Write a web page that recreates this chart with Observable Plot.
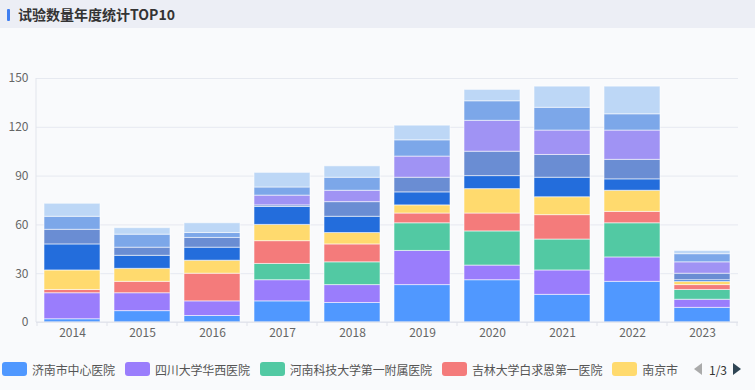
<!DOCTYPE html>
<html>
<head>
<meta charset="utf-8">
<script src="https://cdn.jsdelivr.net/npm/d3@7"></script>
<script src="https://cdn.jsdelivr.net/npm/@observablehq/plot@0.6"></script>
<style>
  html, body { margin: 0; padding: 0; }
  body { width: 755px; height: 390px; background: #f9fafc; font-family: "Noto Sans CJK SC", "Noto Sans", sans-serif; overflow: hidden; position: relative; }
  #title { height: 28px; background: #eceef5; position: relative; }
  #title .accent { position: absolute; left: 7px; top: 9px; width: 3px; height: 12px; background: #3f7ef0; border-radius: 1px; }
  #title .text { position: absolute; left: 18px; top: 0; line-height: 28px; font-size: 14px; font-weight: bold; color: #333; }
  #chart { position: absolute; left: 0; top: 30px; }
  #legend { position: absolute; left: 2px; top: 361px; height: 16px; display: flex; align-items: center; font-size: 12px; color: #555; white-space: nowrap; }
  #legend .item { display: flex; align-items: center; margin-right: 10px; }
  #legend .item span { letter-spacing: -0.15px; }
  #legend .sw { width: 25px; height: 14px; border-radius: 3px; margin-right: 5px; }
  #pager { position: absolute; left: 693px; top: 361px; height: 16px; display: flex; align-items: center; font-size: 12px; color: #333; }
</style>
</head>
<body>
<div id="title"><div class="accent"></div><div class="text">试验数量年度统计TOP10</div></div>
<div id="chart"></div>
<div id="legend"></div>
<div id="pager">
  <svg width="10" height="14"><path d="M9,1 L1,7 L9,13 Z" fill="#aaa"/></svg>
  <span style="margin:0 5px 0 6px">1/3</span>
  <svg width="10" height="14"><path d="M1,1 L9,7 L1,13 Z" fill="#2f4554"/></svg>
</div>
<script>
const years = ["2014","2015","2016","2017","2018","2019","2020","2021","2022","2023"];
const seriesNames = ["济南市中心医院","四川大学华西医院","河南科技大学第一附属医院","吉林大学白求恩第一医院","南京市","医院6","医院7","医院8","医院9","医院10"];
const legendShown = ["济南市中心医院","四川大学华西医院","河南科技大学第一附属医院","吉林大学白求恩第一医院","南京市"];
const colors = ["#5098ff","#9a7dfc","#52c9a3","#f47b7b","#ffda6e","#236ddc","#6a8dd3","#a093f4","#7ca7e9","#bdd7f6"];
const yTicks = [0,30,60,90,120,150];

// values per series, in year order
const s1  = [2, 7, 4, 13, 12, 23, 26, 17, 25, 9];
const s2  = [16, 11, 9, 13, 11, 21, 9, 15, 15, 5];
const s3  = [0, 0, 0, 10, 14, 17, 21, 19, 21, 6];
const s4  = [2, 7, 17, 14, 11, 6, 11, 15, 7, 3];
const s5  = [12, 8, 8, 10, 7, 5, 15, 11, 13, 2];
const s6  = [16, 8, 8, 11, 10, 8, 8, 12, 7, 1];
const s7  = [9, 5, 6, 1, 9, 9, 15, 14, 12, 4];
const s8  = [0, 0, 0, 6, 7, 13, 19, 15, 18, 7];
const s9  = [8, 8, 3, 5, 8, 10, 12, 14, 10, 5];
const s10 = [8, 4, 6, 9, 7, 9, 7, 13, 17, 2];
const seriesValues = [s1, s2, s3, s4, s5, s6, s7, s8, s9, s10];

const table = [];
seriesNames.forEach((name, si) => {
  years.forEach((yr, yi) => {
    table.push({series: name, year: yr, value: seriesValues[si][yi]});
  });
});

const chart = Plot.plot({
  width: 755,
  height: 320,
  marginTop: 48,
  marginBottom: 28,
  marginLeft: 36,
  marginRight: 17,
  style: {background: "transparent", fontSize: "12px", fontFamily: "'Noto Sans CJK SC', 'Noto Sans', sans-serif", color: "#666", overflow: "visible"},
  x: {domain: years, paddingInner: 0.2, paddingOuter: 0.1, label: null, tickSize: 0, tickPadding: 6},
  y: {domain: [0, 150], ticks: yTicks, label: null, tickSize: 0, tickPadding: 8},
  color: {domain: seriesNames, range: colors},
  marks: [
    Plot.ruleY(yTicks, {stroke: "#e6e9f0", strokeWidth: 1}),
    Plot.barY(table, {x: "year", y: "value", fill: "series", stroke: "#ffffff", strokeOpacity: 0.55, strokeWidth: 1})
  ]
});
document.getElementById("chart").appendChild(chart);

// axis lines and category boundary ticks from the library's scales
const xs = chart.scale("x");
const ys = chart.scale("y");
const svg = d3.select(chart);
const y0 = ys.apply(0), yTop = ys.apply(150);
const xr = xs.range;
const g = svg.append("g");
g.append("line").attr("x1", xr[0]).attr("x2", xr[0]).attr("y1", yTop).attr("y2", y0).attr("stroke", "#e2e5ec");
g.append("line").attr("x1", xr[0]).attr("x2", xr[1]).attr("y1", y0).attr("y2", y0).attr("stroke", "#dfe2ea");
const step = xs.step != null ? xs.step : (xr[1] - xr[0]) / years.length;
const bw = xs.bandwidth != null ? xs.bandwidth : step * 0.8;
const bounds = years.map(yr => xs.apply(yr) - (step - bw) / 2);
bounds.push(bounds[bounds.length - 1] + step);
bounds.forEach(bx => {
  g.append("line").attr("x1", bx).attr("x2", bx).attr("y1", y0).attr("y2", y0 + 4).attr("stroke", "#dfe2ea");
});

// legend
const leg = d3.select("#legend");
legendShown.forEach(name => {
  const it = leg.append("div").attr("class", "item");
  it.append("div").attr("class", "sw").style("background", colors[seriesNames.indexOf(name)]);
  it.append("span").text(name);
});
</script>
</body>
</html>
